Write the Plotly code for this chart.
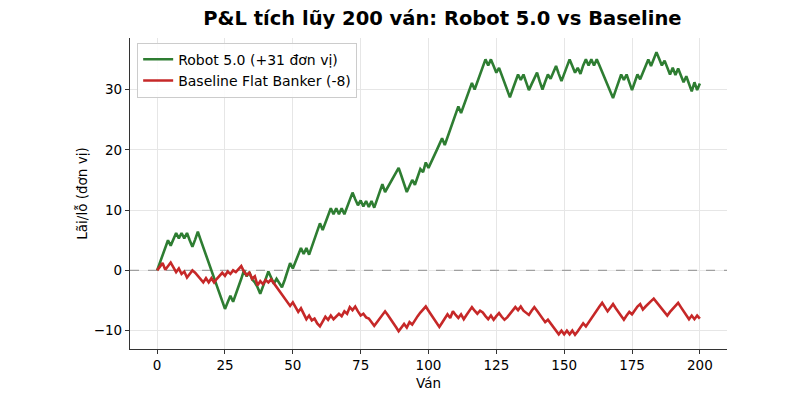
import plotly.graph_objects as go

robot = [
    0, 1.3, 2.6, 3.9, 5.0, 4.1, 5.2, 6.2, 5.3, 6.2,
    5.3, 6.2, 5.0, 3.9, 5.1, 6.4, 5.1, 3.8, 2.5, 1.2,
    -0.1, -1.4, -2.7, -4.0, -5.3, -6.4, -5.3, -4.2, -5.2, -4.0,
    -2.7, -1.4, 0.0, -1.0, -0.3, -1.5, -2.0, -2.8, -3.9, -2.6,
    -1.3, -0.2, -1.2, -2.2, -1.4, -2.0, -2.8, -1.6, 0.0, 1.2,
    0.3, 1.5, 2.6, 3.7, 2.7, 3.7, 2.6, 4.0, 5.3, 6.6,
    7.8, 6.7, 7.9, 9.1, 10.3, 9.3, 10.3, 9.3, 10.3, 9.3,
    10.5, 11.7, 12.9, 11.8, 10.8, 11.6, 10.6, 11.5, 10.5, 11.5,
    10.4, 11.7, 13.0, 14.3, 13.0, 13.8, 14.6, 15.4, 16.2, 17.0,
    15.7, 14.4, 13.0, 14.0, 15.0, 14.2, 15.5, 16.8, 16.3, 17.9,
    17.0, 17.9, 18.9, 19.9, 20.9, 21.9, 20.8, 22.1, 23.4, 24.7,
    26.0, 27.2, 26.1, 27.4, 28.7, 30.0, 31.1, 30.0, 31.3, 32.6,
    33.9, 35.0, 34.0, 35.0, 33.9, 32.8, 33.6, 32.4, 31.2, 30.0,
    28.7, 30.0, 31.3, 32.5, 31.6, 32.5, 31.2, 29.9, 30.9, 32.0,
    32.8, 31.3, 30.0, 31.3, 32.5, 31.8, 32.9, 33.9, 32.6, 31.4,
    32.6, 33.8, 35.0, 33.9, 32.8, 33.6, 32.6, 34.0, 35.0, 34.0,
    35.0, 34.0, 35.0, 34.0, 32.9, 31.8, 30.7, 29.6, 28.6, 29.9,
    31.2, 32.5, 31.6, 32.5, 31.2, 29.9, 31.2, 32.5, 31.7, 32.9,
    33.9, 35.0, 33.9, 35.1, 36.2, 35.1, 34.0, 34.8, 33.6, 32.5,
    33.6, 32.4, 33.5, 32.3, 31.2, 32.2, 30.9, 29.7, 31.2, 29.9,
    31.0,
]

baseline = [
    0, 0.6, 1.2, 0.1, 0.7, 1.3, 0.5, -0.3, 0.3, -0.6,
    -0.2, -1.2, -0.6, 0.0, -0.4, -0.9, -1.5, -2.0, -1.3, -2.0,
    -1.3, -2.0, -1.4, -0.8, -0.4, -0.9, -0.2, -0.6, 0.0, -0.3,
    0.3, 0.7, -0.2, -0.8, -0.4, -1.4, -1.0, -2.5, -1.8, -2.3,
    -1.6, -2.0, -1.5, -2.1, -2.8, -3.5, -4.1, -4.7, -5.3, -5.9,
    -5.3, -6.0, -6.9, -6.3, -7.2, -8.1, -7.5, -8.3, -8.0, -8.8,
    -9.3, -8.5, -7.7, -8.2, -7.5, -8.1, -7.6, -7.2, -7.6, -6.8,
    -7.2, -6.1, -6.6, -6.0, -6.8, -7.5, -7.2, -7.8, -8.0, -8.6,
    -9.2, -8.6, -8.0, -7.4, -6.8, -7.4, -8.0, -8.7, -9.4, -10.1,
    -9.5, -8.9, -9.5, -8.6, -9.0, -8.2, -7.6, -7.0, -6.5, -6.0,
    -6.7, -7.4, -8.1, -8.8, -9.4, -8.7, -8.0, -7.3, -7.9, -6.8,
    -7.4, -7.9, -7.3, -8.1, -7.4, -6.7, -6.1, -6.7, -7.2, -6.7,
    -7.0, -7.6, -8.1, -7.5, -8.2, -7.6, -7.1, -7.7, -8.2, -7.8,
    -7.2, -6.6, -6.1, -6.6, -6.0, -6.7, -7.0, -7.4, -6.7, -6.1,
    -6.7, -7.3, -8.0, -8.6, -8.2, -8.8, -9.4, -10.0, -10.6, -10.0,
    -10.6, -10.0, -10.6, -10.0, -10.7, -10.1, -9.4, -8.8, -9.3, -8.6,
    -8.0, -7.4, -6.7, -6.0, -5.4, -6.1, -6.8, -6.2, -5.6, -6.3,
    -7.0, -7.6, -8.2, -7.5, -6.9, -7.3, -6.6, -6.0, -5.6, -6.5,
    -6.0, -5.5, -5.1, -4.7, -5.3, -5.9, -6.5, -7.0, -7.5, -6.9,
    -6.4, -5.9, -5.4, -6.1, -6.8, -7.4, -8.1, -7.5, -8.1, -7.5,
    -8.0,
]

rounds_robot = list(range(len(robot)))
rounds_base = list(range(len(baseline)))

names = ["Robot 5.0 (+31 đơn vị)", "Baseline Flat Banker (-8)"]
colors = ["#2e7d32", "#c62828"]

x_ticks = [0, 25, 50, 75, 100, 125, 150, 175, 200]
y_ticks = [-10, 0, 10, 20, 30]
x_range = [-10, 210]
y_range = [-13.05, 38.55]

FONT = "DejaVu Sans"

fig = go.Figure()
# zero reference line (dashed)
fig.add_trace(go.Scatter(x=x_range, y=[0, 0], mode="lines", showlegend=False, hoverinfo="skip",
                         line=dict(color="#a0a0a0", width=1.3, dash="dash")))
fig.add_trace(go.Scatter(x=rounds_robot, y=robot, mode="lines", name=names[0],
                         line=dict(color=colors[0], width=2.6)))
fig.add_trace(go.Scatter(x=rounds_base, y=baseline, mode="lines", name=names[1],
                         line=dict(color=colors[1], width=2.6)))

fig.update_layout(
    width=800, height=400,
    margin=dict(l=130, r=73, t=38, b=51),
    paper_bgcolor="white", plot_bgcolor="white",
    font=dict(family=FONT, size=13, color="black"),
    title=dict(text="<b>P&L tích lũy 200 ván: Robot 5.0 vs Baseline</b>",
               x=0.553, xanchor="center", y=0.955, yanchor="middle",
               font=dict(family=FONT, size=19.5, color="black")),
    legend=dict(x=0.012, y=0.985, xanchor="left", yanchor="top",
                bgcolor="rgba(255,255,255,0.85)", bordercolor="#cccccc", borderwidth=1,
                font=dict(family=FONT, size=14), tracegroupgap=0),
    showlegend=True,
)
fig.update_xaxes(range=x_range, tickvals=x_ticks, showline=True, linecolor="#333333",
                 linewidth=1.3, ticks="outside", ticklen=4, tickcolor="#333333",
                 showgrid=True, gridcolor="#e6e6e6", gridwidth=1, zeroline=False,
                 title=dict(text="Ván", font=dict(family=FONT, size=13.5), standoff=6),
                 tickfont=dict(family=FONT, size=13.5))
fig.update_yaxes(range=y_range, tickvals=y_ticks, showline=True, linecolor="#333333",
                 linewidth=1.3, ticks="outside", ticklen=4, tickcolor="#333333",
                 showgrid=True, gridcolor="#e6e6e6", gridwidth=1, zeroline=False,
                 title=dict(text="Lãi/lỗ (đơn vị)", font=dict(family=FONT, size=13.5), standoff=2),
                 tickfont=dict(family=FONT, size=13.5))

fig.write_html("out.html")
